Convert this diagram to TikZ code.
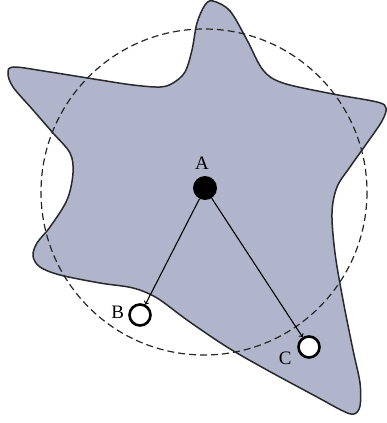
\documentclass[tikz,border=0pt]{standalone}
\usepackage{fontspec}
\setmainfont{Liberation Serif}
\usepackage{tikz}
\usetikzlibrary{positioning}
\usetikzlibrary{arrows}
\definecolor{starfill}{RGB}{177,181,204}
\definecolor{staredge}{RGB}{40,40,45}
\tikzset{
star_shape/.style={draw=staredge, fill=starfill, line width=1.5pt},
reach_circle/.style={draw=black!85, dashed, dash pattern=on 7pt off 4pt, line width=1.2pt},
point_full/.style={circle, fill=black, minimum size=24pt, inner sep=0pt},
point_empty/.style={circle, draw=black, fill=white, line width=2.6pt, minimum size=21pt, inner sep=0pt},
point_label/.style={font=\fontsize{19}{22}\selectfont, inner sep=1pt},
move/.style={->, line width=1.1pt}
}
\begin{document}
\begin{tikzpicture}[x=1pt, y=-1pt]
    \useasboundingbox (0,0) rectangle (387,423);
    % star shaped region
    \draw[star_shape] plot[smooth cycle, tension=0.55] coordinates {
        (213,1) (230,11) (247,40) (263,70) (283,83) (333,94) (377,102)
        (386,108) (382,121) (367,143) (350,167) (337,187) (332,213)
        (335,253) (343,300) (353,350) (360,383) (360,406) (354,414)
        (343,411) (317,397) (267,370) (227,347) (187,320) (157,298)
        (133,288) (100,283) (60,275) (40,267) (33,256) (37,243)
        (50,227) (67,200) (73,173) (70,153) (53,133) (33,110) (13,87)
        (8,73) (14,67) (50,72) (100,80) (133,85) (160,87) (173,83)
        (185,72) (192,50) (197,23) (205,5)};
    % dashed circle round A
    \draw[reach_circle] (204,192) circle[radius=163];
    \node[point_full] (a_pt) at (205,188) {};
    \node[point_empty] (b_pt) at (140,315) {};
    \node[point_empty] (c_pt) at (309,347) {};
    \node[point_label] (a_lbl) [above=5pt of a_pt, xshift=-3pt] {A};
    \node[point_label] (b_lbl) [left=3pt of b_pt, yshift=3pt] {B};
    \node[point_label] (c_lbl) [below left=-5pt and 8pt of c_pt] {C};
    \draw[move] (a_pt) -- (b_pt);
    \draw[move] (a_pt) -- (c_pt);
\end{tikzpicture}
\end{document}
